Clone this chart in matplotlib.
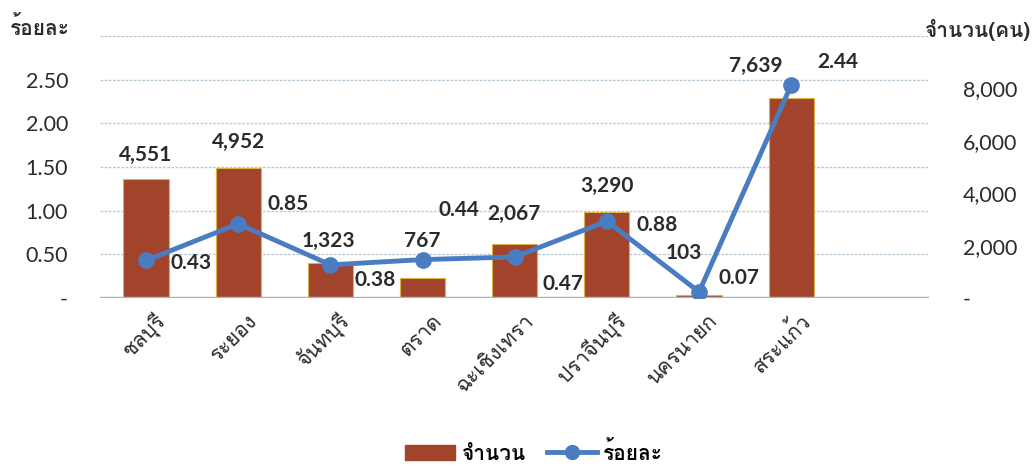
import matplotlib
matplotlib.use("Agg")
import matplotlib.pyplot as plt
import matplotlib.transforms as mtransforms
import numpy as np

plt.rcParams['font.family'] = ['Loma', 'DejaVu Sans']
num_font = ['Lato', 'DejaVu Sans']

# ข้อมูล
provinces = ['ชลบุรี', 'ระยอง', 'จันทบุรี', 'ตราด', 'ฉะเชิงเทรา', 'ปราจีนบุรี', 'นครนายก', 'สระแก้ว']
counts = [4551, 4952, 1323, 767, 2067, 3290, 103, 7639]
percents = [0.43, 0.85, 0.38, 0.44, 0.47, 0.88, 0.07, 2.44]
left_ticks = [0, 0.5, 1.0, 1.5, 2.0, 2.5]
left_labels = ['-', '0.50', '1.00', '1.50', '2.00', '2.50']
right_ticks = [0, 2000, 4000, 6000, 8000]
right_labels = ['-', '2,000', '4,000', '6,000', '8,000']

LMAX = 3.0
RMAX = 10000

# ตำแหน่งป้ายตัวเลข (pixel offset)
count_off = [(0, 24), (0, 26), (-2, 22), (0, 37), (-1, 30), (0, 26), (-15, 42), (-35, 32)]
pct_off = [(45, -3), (50, 20), (45, -15), (36, 50), (48, -27), (50, -4), (40, 14), (47, 23)]

bar_color = '#a2432c'
line_color = '#4a7cc2'
text_color = '#2b2b2b'

fig = plt.figure(figsize=(10.33, 4.66), dpi=100)
ax2 = fig.add_axes([0.0968, 0.3605, 0.803, 0.562])
ax = ax2.twinx()
ax.set_zorder(ax2.get_zorder() + 1)
ax.patch.set_visible(False)

x = np.arange(len(provinces))

# เส้นกริด (อยู่หลังแท่ง)
for t in left_ticks[1:] + [LMAX]:
    ax2.axhline(t * RMAX / LMAX, color='#b9cbd6', lw=1, ls=(0, (2, 1)), zorder=0)

bars = ax2.bar(x, counts, width=0.49, color=bar_color, edgecolor='#d9b44a', linewidth=0.8, zorder=2)
ax2.axhline(0, color='#a8b4c0', lw=2.5, zorder=3)
ax2.set_ylim(0, RMAX)
ax2.set_xlim(-0.5, len(provinces) + 0.5)

ax.plot(x, percents, color=line_color, lw=3.5, marker='o', markersize=11, zorder=4)
ax.set_ylim(0, LMAX)

# แกนซ้าย = ร้อยละ, แกนขวา = จำนวน
ax.yaxis.tick_left()
ax.set_yticks(left_ticks)
ax.set_yticklabels(left_labels, fontfamily=num_font)
ax2.yaxis.tick_right()
ax2.set_yticks(right_ticks)
ax2.set_yticklabels(right_labels, fontfamily=num_font)
ax.tick_params(axis='y', length=0, pad=23, labelsize=15.5, labelcolor=text_color)
ax2.tick_params(axis='y', length=0, pad=24, labelsize=15.5, labelcolor=text_color)

ax2.set_xticks(x)
ax2.set_xticklabels(provinces, rotation=45, ha='right', va='center', rotation_mode='anchor',
                    fontsize=15, color=text_color)
ax2.tick_params(axis='x', length=0, pad=14)
shift = mtransforms.ScaledTranslation(16 / 100, 0, fig.dpi_scale_trans)
for lab in ax2.get_xticklabels():
    lab.set_transform(lab.get_transform() + shift)

for a in (ax, ax2):
    for s in a.spines.values():
        s.set_visible(False)

for i in range(len(provinces)):
    ax2.annotate(f'{counts[i]:,}', (x[i], counts[i]), xytext=count_off[i], textcoords='offset pixels',
                 ha='center', va='center', fontsize=15, fontweight='bold', color=text_color,
                 fontfamily=num_font, zorder=5)
    ax.annotate(f'{percents[i]:.2f}', (x[i], percents[i]), xytext=pct_off[i], textcoords='offset pixels',
                ha='center', va='center', fontsize=15, fontweight='bold', color=text_color,
                fontfamily=num_font, zorder=5)

fig.text(0.01, 0.94, 'ร้อยละ', fontsize=15, fontweight='bold', color=text_color, va='center')
fig.text(0.998, 0.935, 'จำนวน(คน)', fontsize=15, fontweight='bold', color=text_color, va='center', ha='right')

h1 = plt.Rectangle((0, 0), 1, 1, color=bar_color)
h2 = plt.Line2D([], [], color=line_color, lw=3.5, marker='o', markersize=10)
fig.legend([h1, h2], ['จำนวน', 'ร้อยละ'], loc='center', bbox_to_anchor=(0.517, 0.03), ncol=2,
           frameon=False, prop={'size': 15, 'weight': 'bold'}, handlelength=2.4, handletextpad=0.3,
           columnspacing=1.0)

fig.savefig('out.png', dpi=100)
